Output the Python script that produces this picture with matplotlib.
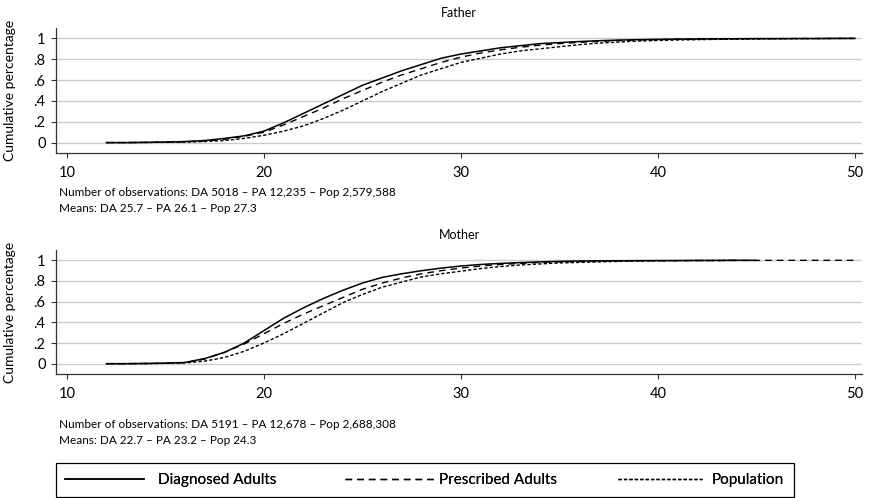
import matplotlib
matplotlib.use("Agg")
import matplotlib.pyplot as plt
from matplotlib.lines import Line2D
from matplotlib.patches import Rectangle

plt.rcParams['font.family'] = ['Lato', 'DejaVu Sans']

# ages (years) and cumulative shares
ages = list(range(12, 51))

father_da = [0, 0, 0.002, 0.005, 0.01, 0.02, 0.04, 0.065, 0.11, 0.19, 0.28, 0.37, 0.46,
             0.55, 0.62, 0.69, 0.75, 0.81, 0.85, 0.88, 0.91, 0.93, 0.95, 0.96, 0.97,
             0.978, 0.984, 0.988, 0.991, 0.993, 0.995, 0.996, 0.997, 0.998, 0.998,
             0.999, 0.999, 1.0, 1.0]
father_pa = [0, 0, 0.002, 0.004, 0.008, 0.016, 0.032, 0.06, 0.10, 0.17, 0.25, 0.33, 0.42,
             0.50, 0.58, 0.65, 0.71, 0.77, 0.82, 0.86, 0.89, 0.915, 0.935, 0.95, 0.962,
             0.972, 0.98, 0.985, 0.989, 0.992, 0.994, 0.996, 0.997, 0.998, 0.998,
             0.999, 0.999, 1.0, 1.0]
father_pop = [0, 0, 0.001, 0.003, 0.005, 0.01, 0.02, 0.04, 0.07, 0.11, 0.16, 0.23, 0.31,
              0.40, 0.49, 0.57, 0.65, 0.71, 0.77, 0.81, 0.85, 0.88, 0.90, 0.92, 0.94,
              0.955, 0.965, 0.975, 0.98, 0.985, 0.988, 0.991, 0.993, 0.995, 0.996,
              0.997, 0.998, 0.999, 1.0]

mother_da = [0, 0, 0.002, 0.005, 0.012, 0.05, 0.11, 0.20, 0.32, 0.44, 0.54, 0.63, 0.71,
             0.78, 0.835, 0.87, 0.90, 0.925, 0.945, 0.96, 0.97, 0.978, 0.985, 0.99,
             0.993, 0.995, 0.996, 0.997, 0.998, 0.998, 0.999, 0.999, 1.0, 1.0]
mother_pa = [0, 0, 0.002, 0.004, 0.01, 0.045, 0.11, 0.19, 0.29, 0.39, 0.48, 0.56, 0.64,
             0.72, 0.78, 0.83, 0.87, 0.90, 0.925, 0.945, 0.96, 0.97, 0.98, 0.985, 0.99,
             0.992, 0.994, 0.995, 0.996, 0.997, 0.998, 0.998, 0.999, 0.999, 1.0, 1.0,
             1.0, 1.0, 1.0]
mother_pop = [0, 0, 0.001, 0.003, 0.008, 0.025, 0.06, 0.12, 0.20, 0.29, 0.39, 0.49, 0.59,
              0.67, 0.74, 0.79, 0.84, 0.87, 0.895, 0.92, 0.94, 0.955, 0.965, 0.975, 0.98,
              0.985, 0.99, 0.993, 0.995, 0.997, 0.998, 0.999, 1.0]

titles = ["Father", "Mother"]
notes = [["Number of observations: DA 5018 \u2013 PA 12,235 \u2013 Pop 2,579,588",
          "Means: DA 25.7 \u2013 PA 26.1 \u2013 Pop 27.3"],
         ["Number of observations: DA 5191 \u2013 PA 12,678 \u2013 Pop 2,688,308",
          "Means: DA 22.7 \u2013 PA 23.2 \u2013 Pop 24.3"]]
labels = ["Diagnosed Adults", "Prescribed Adults", "Population"]
xticks = [10, 20, 30, 40, 50]
yticks = [0, 0.2, 0.4, 0.6, 0.8, 1]
ytick_labels = ["0", ".2", ".4", ".6", ".8", "1"]

W, H = 872, 498
fig = plt.figure(figsize=(W / 100, H / 100), dpi=100)

styles = [dict(color='black', lw=1.1, ls='-'),
          dict(color='black', lw=1.0, ls=(0, (4.8, 3.6))),
          dict(color='black', lw=1.0, ls=(0, (2.4, 1.5)))]

panels = [(father_da, father_pa, father_pop), (mother_da, mother_pa, mother_pop)]
tops = [28, 250]
bottoms = [153, 374]
note_y = [(193, 209), (424, 440)]

for k, (da, pa, pop) in enumerate(panels):
    ax = fig.add_axes([56 / W, 1 - bottoms[k] / H, (862 - 56) / W, (bottoms[k] - tops[k]) / H])
    ax.plot(ages[:len(pop)], pop, zorder=3, **styles[2])
    ax.plot(ages[:len(pa)], pa, zorder=4, **styles[1])
    ax.plot(ages[:len(da)], da, zorder=5, **styles[0])
    ax.set_xlim(9.44, 50.36)
    ax.set_ylim(-0.1, 1.1)
    ax.set_xticks(xticks)
    ax.set_yticks(yticks)
    ax.set_yticklabels(ytick_labels)
    ax.grid(axis='y', color='#cccccc', lw=1.0, zorder=0)
    ax.set_axisbelow(True)
    for s in ['top', 'right']:
        ax.spines[s].set_visible(False)
    for s in ['left', 'bottom']:
        ax.spines[s].set_color('#333333')
        ax.spines[s].set_linewidth(0.9)
    ax.tick_params(axis='both', direction='out', length=3.5, width=0.8,
                   color='#333333', labelsize=10.5)
    ax.tick_params(axis='x', pad=6)
    ax.tick_params(axis='y', pad=4)
    ax.set_title(titles[k], fontsize=9, pad=8)
    mid = (tops[k] + bottoms[k]) / 2
    fig.text(10 / W, 1 - mid / H, "Cumulative percentage", rotation=90,
             fontsize=10, ha='center', va='center')
    for j, t in enumerate(notes[k]):
        fig.text(59 / W, 1 - note_y[k][j] / H, t, fontsize=8.5, va='center', ha='left')

# legend: framed box with three entries
fig.add_artist(Rectangle((56 / W, 1 - 497 / H), (794 - 56) / W, 34 / H,
                         transform=fig.transFigure, fill=False,
                         edgecolor='black', lw=0.9))
leg_x = [65, 345, 618]
leg_len = [5.2, 5.9, 5.5]
leg_pad = [0.9, 0.25, 0.65]
for i in range(3):
    h = Line2D([], [], **styles[i])
    lg = fig.legend([h], [labels[i]], loc='center left',
                    bbox_to_anchor=(leg_x[i] / W, 1 - 480 / H), frameon=False,
                    fontsize=11, handlelength=leg_len[i], handletextpad=leg_pad[i],
                    borderpad=0, borderaxespad=0)
    fig.add_artist(lg)

fig.savefig("out.png", dpi=100)
